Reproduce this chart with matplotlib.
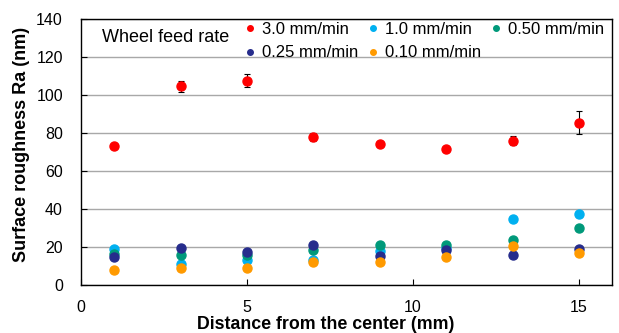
import matplotlib.pyplot as plt
from matplotlib.lines import Line2D

plt.rcParams['font.family'] = ['Liberation Sans', 'DejaVu Sans']

distance = [1, 3, 5, 7, 9, 11, 13, 15]
labels = ['3.0 mm/min', '1.0 mm/min', '0.50 mm/min', '0.25 mm/min', '0.10 mm/min']
colors = ['#ff0000', '#00b0f0', '#00997a', '#262c8c', '#ff9a00']
ra_30 = [73, 104.5, 107.5, 78, 74, 71.5, 76, 85.5]
err_30 = [0.8, 3, 3.5, 2.2, 0.8, 0.8, 2.5, 6.3]
ra_10 = [19, 11, 13, 13, 18, 19.5, 34.5, 37.3]
err_10 = [0.5, 0.5, 0.5, 0.5, 0.5, 0.5, 0.8, 1.5]
ra_050 = [16.3, 15.8, 16, 18.4, 21, 21, 23.5, 30]
err_050 = [0.5, 0.5, 0.5, 0.5, 0.5, 0.5, 0.5, 0.5]
ra_025 = [15, 19.5, 17.5, 21.2, 15.4, 18.5, 16, 18.8]
err_025 = [0.5, 0.5, 0.5, 0.5, 0.5, 0.5, 0.5, 0.5]
ra_010 = [8, 8.8, 8.8, 12, 11.9, 15, 20.6, 16.9]
err_010 = [0.5, 0.5, 0.5, 0.5, 0.5, 0.5, 0.5, 0.5]

series = [ra_30, ra_10, ra_050, ra_025, ra_010]
errors = [err_30, err_10, err_050, err_025, err_010]

fig = plt.figure(figsize=(6.19, 3.33), dpi=100)
ax = fig.add_axes([0.1309, 0.1441, 0.858, 0.799])

for vals, errs, col in zip(series, errors, colors):
    ax.errorbar(distance, vals, yerr=errs, fmt='none', ecolor='black',
                elinewidth=0.8, capsize=2, capthick=0.8, zorder=2)
    ax.plot(distance, vals, 'o', color=col, markersize=6.5, zorder=3)

ax.set_xlim(0, 16)
ax.set_ylim(0, 140)
ax.set_xticks([0, 5, 10, 15])
ax.set_yticks(range(0, 141, 20))
ax.yaxis.grid(True, color='#a8a8a8', linewidth=1)
ax.set_axisbelow(True)
ax.tick_params(direction='in', labelsize=11.5, length=4, width=0.8)
ax.tick_params(axis='x', pad=11)
ax.tick_params(axis='y', pad=13)
for sp in ax.spines.values():
    sp.set_linewidth(1)

ax.set_xlabel('Distance from the center (mm)', fontsize=12.8, fontweight='bold')
ax.xaxis.set_label_coords(0.461, -0.117)
ax.set_ylabel('Surface roughness Ra (nm)', fontsize=13, fontweight='bold')
ax.yaxis.set_label_coords(-0.096, 0.53)

handles = [Line2D([], [], marker='o', linestyle='none', color=c, markersize=4) for c in colors]
order = [0, 3, 1, 4, 2]
ax.legend([handles[i] for i in order], [labels[i] for i in order], ncol=3, frameon=False,
          loc='upper left', bbox_to_anchor=(0.281, 1.044), fontsize=12,
          handletextpad=0.4, handlelength=0.6, columnspacing=0.6, labelspacing=0.49,
          borderpad=0.4)
ax.text(0.0395, 0.9286, 'Wheel feed rate', transform=ax.transAxes, fontsize=13, va='center')

fig.savefig('out.png', dpi=100)
